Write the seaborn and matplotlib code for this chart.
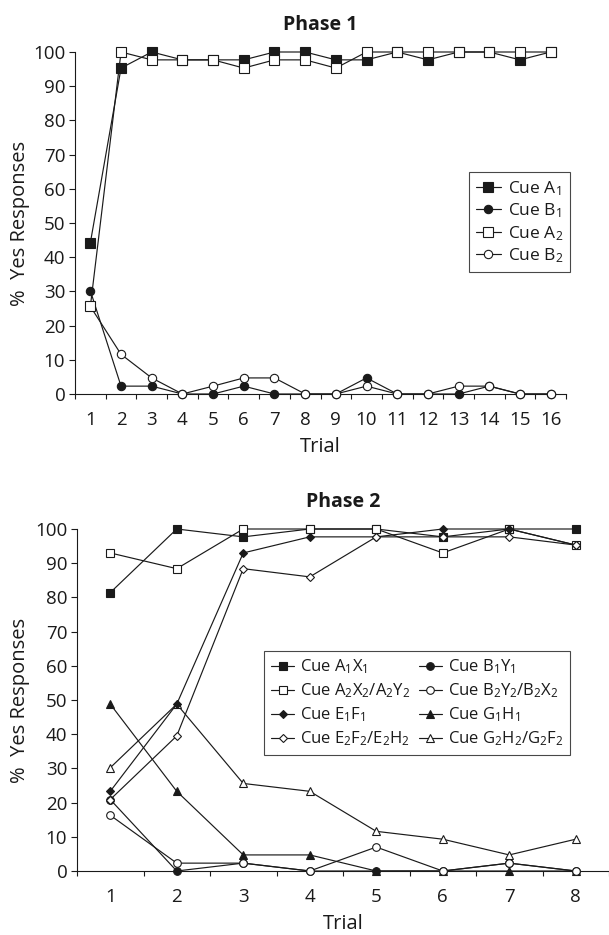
import matplotlib
matplotlib.use("Agg")
import matplotlib.pyplot as plt
from matplotlib.ticker import FixedLocator, NullFormatter, FixedFormatter
import seaborn as sns
import numpy as np

sns.set_theme(style="ticks")
plt.rcParams['font.family'] = ['Open Sans', 'DejaVu Sans']
plt.rcParams['mathtext.default'] = 'regular'
plt.rcParams['text.color'] = '#1a1a1a'
plt.rcParams['axes.labelcolor'] = '#1a1a1a'
plt.rcParams['xtick.color'] = '#1a1a1a'
plt.rcParams['ytick.color'] = '#1a1a1a'

# ---------------- data ----------------
trials1 = list(range(1, 17))
cue_a1 = [44.2, 95.3, 100, 97.7, 97.7, 97.7, 100, 100, 97.7, 97.7, 100, 97.7, 100, 100, 97.7, 100]
cue_b1 = [30.2, 2.3, 2.3, 0, 0, 2.3, 0, 0, 0, 4.7, 0, 0, 0, 2.3, 0, 0]
cue_a2 = [25.6, 100, 97.7, 97.7, 97.7, 95.3, 97.7, 97.7, 95.3, 100, 100, 100, 100, 100, 100, 100]
cue_b2 = [25.6, 11.6, 4.7, 0, 2.3, 4.7, 4.7, 0, 0, 2.3, 0, 0, 2.3, 2.3, 0, 0]
phase1_labels = ['Cue A$_1$', 'Cue B$_1$', 'Cue A$_2$', 'Cue B$_2$']

trials2 = list(range(1, 9))
cue_a1x1 = [81.4, 100, 97.7, 100, 100, 97.7, 100, 100]
cue_a2x2 = [93.0, 88.4, 100, 100, 100, 93.0, 100, 95.3]
cue_e1f1 = [23.3, 48.8, 93.0, 97.7, 97.7, 100, 100, 95.3]
cue_e2f2 = [20.9, 39.5, 88.4, 86.0, 97.7, 97.7, 97.7, 95.3]
cue_b1y1 = [20.9, 0, 2.3, 0, 0, 0, 2.3, 0]
cue_b2y2 = [16.3, 2.3, 2.3, 0, 7.0, 0, 2.3, 0]
cue_g1h1 = [48.8, 23.3, 4.7, 4.7, 0, 0, 0, 0]
cue_g2h2 = [30.2, 48.8, 25.6, 23.3, 11.6, 9.3, 4.7, 9.3]
phase2_labels = ['Cue A$_1$X$_1$', 'Cue A$_2$X$_2$/A$_2$Y$_2$', 'Cue E$_1$F$_1$',
                 'Cue E$_2$F$_2$/E$_2$H$_2$', 'Cue B$_1$Y$_1$', 'Cue B$_2$Y$_2$/B$_2$X$_2$',
                 'Cue G$_1$H$_1$', 'Cue G$_2$H$_2$/G$_2$F$_2$']

INK = '#1a1a1a'
W, H = 609, 935

fig = plt.figure(figsize=(W / 100, H / 100), dpi=100)
ax1 = fig.add_axes([75 / W, (H - 394) / H, 491 / W, 342 / H])
ax2 = fig.add_axes([77 / W, (H - 871) / H, 532 / W, 342 / H])


def series(ax, x, y, marker, filled, ms, label):
    sns.lineplot(x=x, y=y, ax=ax, color=INK, lw=0.85, marker=marker, markersize=ms,
                 markerfacecolor=INK if filled else 'white', markeredgecolor=INK,
                 markeredgewidth=0.8, clip_on=False, label=label, zorder=3)


# ---- Phase 1 ----
series(ax1, trials1, cue_a1, 's', True, 6.5, phase1_labels[0])
series(ax1, trials1, cue_b1, 'o', True, 6.0, phase1_labels[1])
series(ax1, trials1, cue_b2, 'o', False, 6.0, phase1_labels[3])
series(ax1, trials1, cue_a2, 's', False, 6.5, phase1_labels[2])

# ---- Phase 2 ----
series(ax2, trials2, cue_a1x1, 's', True, 6.0, phase2_labels[0])
series(ax2, trials2, cue_a2x2, 's', False, 6.0, phase2_labels[1])
series(ax2, trials2, cue_g2h2, '^', False, 6.0, phase2_labels[7])
series(ax2, trials2, cue_g1h1, '^', True, 6.0, phase2_labels[6])
series(ax2, trials2, cue_e1f1, 'D', True, 4.5, phase2_labels[2])
series(ax2, trials2, cue_b1y1, 'o', True, 5.5, phase2_labels[4])
series(ax2, trials2, cue_b2y2, 'o', False, 5.5, phase2_labels[5])
series(ax2, trials2, cue_e2f2, 'D', False, 4.5, phase2_labels[3])


def style_axes(ax, n, title):
    ax.set_xlim(0.5, n + 0.5)
    ax.set_ylim(0, 100)
    ax.set_yticks(np.arange(0, 101, 10))
    ax.xaxis.set_major_locator(FixedLocator(np.arange(0.5, n + 1, 1)))
    ax.xaxis.set_major_formatter(NullFormatter())
    ax.xaxis.set_minor_locator(FixedLocator(np.arange(1, n + 1)))
    ax.xaxis.set_minor_formatter(FixedFormatter([str(i) for i in range(1, n + 1)]))
    ax.tick_params(axis='x', which='major', length=3.5, width=0.8, direction='out')
    ax.tick_params(axis='x', which='minor', length=0, pad=12, labelsize=13.5)
    ax.tick_params(axis='y', length=4, width=0.8, pad=3, labelsize=13.5)
    sns.despine(ax=ax)
    for s in ('left', 'bottom'):
        ax.spines[s].set_linewidth(0.8)
        ax.spines[s].set_color(INK)
    ax.set_xlabel('Trial', fontsize=14.5, labelpad=6)
    ax.set_ylabel('%  Yes Responses', fontsize=14.5)
    ax.set_title(title, fontsize=14, fontweight='bold', pad=16)
    ax.patch.set_alpha(0)


style_axes(ax1, 16, 'Phase 1')
style_axes(ax2, 8, 'Phase 2')
ax1.yaxis.set_label_coords(-0.092, 0.5)
ax2.yaxis.set_label_coords(-0.088, 0.5)

# legends
h, l = ax1.get_legend_handles_labels()
d = dict(zip(l, h))
leg1 = ax1.legend([d[k] for k in phase1_labels], phase1_labels, loc='upper right',
                  bbox_to_anchor=(570 / W, (H - 172) / H), bbox_transform=fig.transFigure,
                  fontsize=12.5, frameon=True, fancybox=False, edgecolor=INK,
                  handlelength=1.4, handletextpad=0.4, labelspacing=0.22,
                  borderpad=0.4, borderaxespad=0)
leg1.get_frame().set_linewidth(0.8)

h, l = ax2.get_legend_handles_labels()
d = dict(zip(l, h))
leg2 = ax2.legend([d[k] for k in phase2_labels], phase2_labels, loc='upper right', ncol=2,
                  bbox_to_anchor=(570 / W, (H - 651) / H), bbox_transform=fig.transFigure,
                  fontsize=12, frameon=True, fancybox=False, edgecolor=INK,
                  handlelength=1.4, handletextpad=0.35, labelspacing=0.32,
                  columnspacing=0.5, borderpad=0.4, borderaxespad=0)
leg2.get_frame().set_linewidth(0.8)

fig.savefig('out.png', dpi=100)
